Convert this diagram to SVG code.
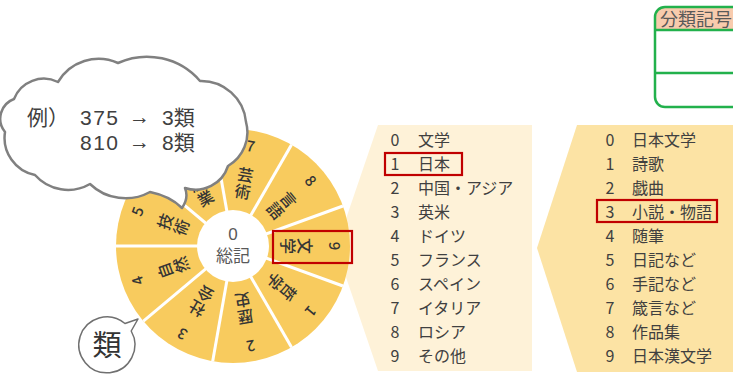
<svg xmlns="http://www.w3.org/2000/svg" width="733" height="378" viewBox="0 0 733 378">
<defs>
<style>
text{font-family:"Noto Sans CJK JP","Noto Sans",sans-serif;}
.w{fill:#353535;font-size:16px;text-anchor:middle;font-weight:500;}
.wn{fill:#353535;font-size:15px;text-anchor:middle;font-weight:500;}
.li{fill:#404040;font-size:16px;}
.ln{fill:#404040;font-size:16px;text-anchor:middle;}
.red{fill:none;stroke:#C00000;stroke-width:2.2;}
.div{stroke:#ffffff;stroke-width:3;}
.ct{fill:#404040;font-size:21px;font-family:"Liberation Sans","Noto Sans CJK JP",sans-serif;}
.cc{fill:#595959;font-size:17px;text-anchor:middle;font-family:"Liberation Sans","Noto Sans CJK JP",sans-serif;}
</style>
</defs>
<rect width="733" height="378" fill="#ffffff"/>

<g id="panel-mid">
<polygon points="378,125 532,125 532,371 378,371 336,248" fill="#FEF2D8"/>
<g>
<text class="ln" x="395" y="146">0</text><text class="li" x="418" y="146">文学</text>
<text class="ln" x="395" y="170">1</text><text class="li" x="418" y="170">日本</text>
<text class="ln" x="395" y="194">2</text><text class="li" x="418" y="194">中国・アジア</text>
<text class="ln" x="395" y="218">3</text><text class="li" x="418" y="218">英米</text>
<text class="ln" x="395" y="242">4</text><text class="li" x="418" y="242">ドイツ</text>
<text class="ln" x="395" y="266">5</text><text class="li" x="418" y="266">フランス</text>
<text class="ln" x="395" y="290">6</text><text class="li" x="418" y="290">スペイン</text>
<text class="ln" x="395" y="314">7</text><text class="li" x="418" y="314">イタリア</text>
<text class="ln" x="395" y="338">8</text><text class="li" x="418" y="338">ロシア</text>
<text class="ln" x="395" y="362">9</text><text class="li" x="418" y="362">その他</text>
</g>
<rect class="red" x="385" y="153" width="77" height="22"/>
</g>

<g id="panel-right">
<polygon points="577,125 735,125 735,372 577,372 537,248" fill="#FCE3A4"/>
<g>
<text class="ln" x="610" y="146">0</text><text class="li" x="632" y="146">日本文学</text>
<text class="ln" x="610" y="170">1</text><text class="li" x="632" y="170">詩歌</text>
<text class="ln" x="610" y="194">2</text><text class="li" x="632" y="194">戯曲</text>
<text class="ln" x="610" y="218">3</text><text class="li" x="632" y="218">小説・物語</text>
<text class="ln" x="610" y="242">4</text><text class="li" x="632" y="242">随筆</text>
<text class="ln" x="610" y="266">5</text><text class="li" x="632" y="266">日記など</text>
<text class="ln" x="610" y="290">6</text><text class="li" x="632" y="290">手記など</text>
<text class="ln" x="610" y="314">7</text><text class="li" x="632" y="314">箴言など</text>
<text class="ln" x="610" y="338">8</text><text class="li" x="632" y="338">作品集</text>
<text class="ln" x="610" y="362">9</text><text class="li" x="632" y="362">日本漢文学</text>
</g>
<rect class="red" x="597" y="200" width="120" height="22"/>
</g>

<g id="wheel">
<circle cx="233" cy="246" r="117" fill="#F8CB5E"/>
<g class="div">
<line x1="233" y1="246" x2="342.94" y2="286.01"/>
<line x1="233" y1="246" x2="291.5" y2="347.33"/>
<line x1="233" y1="246" x2="212.69" y2="361.22"/>
<line x1="233" y1="246" x2="143.38" y2="321.21"/>
<line x1="233" y1="246" x2="116" y2="246"/>
<line x1="233" y1="246" x2="143.38" y2="170.79"/>
<line x1="233" y1="246" x2="212.69" y2="130.78"/>
<line x1="233" y1="246" x2="291.5" y2="144.67"/>
<line x1="233" y1="246" x2="342.94" y2="205.99"/>
</g>
<g transform="translate(233,246) rotate(90)"><text class="wn" x="0" y="-96">9</text><text class="w" x="0" y="-66">文</text><text class="w" x="0" y="-49">学</text></g>
<g transform="translate(233,246) rotate(130)"><text class="wn" x="0" y="-96">1</text><text class="w" x="0" y="-66">哲</text><text class="w" x="0" y="-49">学</text></g>
<g transform="translate(233,246) rotate(170)"><text class="wn" x="0" y="-96">2</text><text class="w" x="0" y="-66">歴</text><text class="w" x="0" y="-49">史</text></g>
<g transform="translate(233,246) rotate(210)"><text class="wn" x="0" y="-96">3</text><text class="w" x="0" y="-66">社</text><text class="w" x="0" y="-49">会</text></g>
<g transform="translate(233,246) rotate(250)"><text class="wn" x="0" y="-96">4</text><text class="w" x="0" y="-66">自</text><text class="w" x="0" y="-49">然</text></g>
<g transform="translate(233,246) rotate(290)"><text class="wn" x="0" y="-96">5</text><text class="w" x="0" y="-66">技</text><text class="w" x="0" y="-49">術</text></g>
<g transform="translate(233,246) rotate(330)"><text class="wn" x="0" y="-96">6</text><text class="w" x="0" y="-66">産</text><text class="w" x="0" y="-49">業</text></g>
<g transform="translate(233,246) rotate(10)"><text class="wn" x="0" y="-96">7</text><text class="w" x="0" y="-66">芸</text><text class="w" x="0" y="-49">術</text></g>
<g transform="translate(233,246) rotate(50)"><text class="wn" x="0" y="-96">8</text><text class="w" x="0" y="-66">言</text><text class="w" x="0" y="-49">語</text></g>
<circle cx="233" cy="246" r="36" fill="#ffffff"/>
<text class="cc" x="233" y="240">0</text>
<text class="cc" x="233" y="262">総記</text>
<rect class="red" x="273" y="231" width="79" height="32"/>
</g>

<g id="cloud">
<path d="M5,132 A21 21 0 0 1 14,99 A32 32 0 0 1 58,82 A47 47 0 0 1 118,63 A70 70 0 0 1 200,81 A45 45 0 0 1 246,122 A39 39 0 0 1 228,166 A34 34 0 0 1 185,188 Q189,198 182,208 Q170,196 150,192 A51 51 0 0 1 90,184 A44 44 0 0 1 35,175 A38 38 0 0 1 5,132 Z" fill="#ffffff" stroke="#808080" stroke-width="2.5" stroke-linejoin="round"/>
<text class="ct" x="27" y="125">例）</text>
<text class="ct" x="80" y="125" letter-spacing="1.5">375</text>
<text class="ct" x="129" y="124">→</text>
<text class="ct" x="162" y="125">3類</text>
<text class="ct" x="80" y="150" letter-spacing="1.5">810</text>
<text class="ct" x="129" y="149">→</text>
<text class="ct" x="162" y="150">8類</text>
</g>

<g id="rui">
<path d="M131.2,331 A28 28 0 1 1 125,323.5 L138,319 Z" fill="#ffffff" stroke="#707070" stroke-width="1.5" stroke-linejoin="round"/>
<text x="107" y="356" fill="#333333" font-size="29" text-anchor="middle">類</text>
</g>

<g id="table">
<path d="M655,30 V17 A10 10 0 0 1 665,7 H740 V30 Z" fill="#F8CBAD"/>
<rect x="655" y="7" width="100" height="100" rx="10" fill="none" stroke="#22B14C" stroke-width="2.5"/>
<line x1="655" y1="30" x2="740" y2="30" stroke="#22B14C" stroke-width="2.5"/>
<line x1="655" y1="73" x2="740" y2="73" stroke="#22B14C" stroke-width="2.5"/>
<text x="660" y="26" fill="#595959" font-size="18">分類記号</text>
</g>

<g id="connectors"></g>
</svg>
